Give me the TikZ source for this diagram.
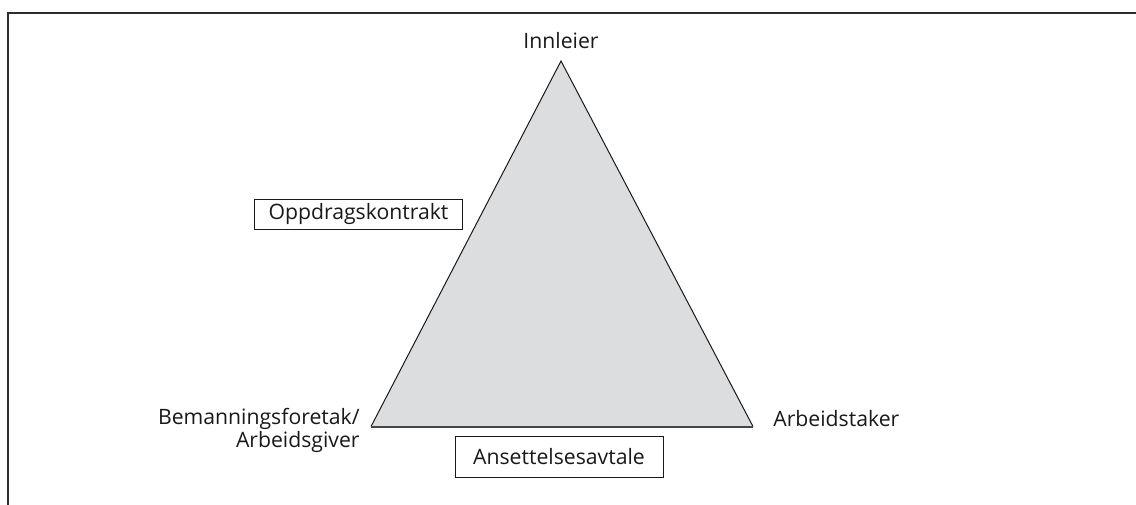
\documentclass[tikz,border=0pt]{standalone}
\usepackage{fontspec}
\setmainfont{Open Sans}
\usepackage{xcolor}
\usepackage{tikz}
\usetikzlibrary{positioning,calc}
\definecolor{ink}{RGB}{25,25,25}
\definecolor{framegray}{RGB}{45,45,45}
\definecolor{basegray}{RGB}{70,70,70}
\definecolor{panelgray}{RGB}{220,221,223}
\tikzset{
  frameline/.style={line width=1pt,framegray},
  side/.style={line width=0.5pt,ink},
  baseline/.style={line width=1pt,basegray},
  party/.style={font=\fontsize{10.6}{11.2}\selectfont,text=ink,inner sep=0pt},
  contract/.style={draw=ink,line width=0.5pt,fill=white,
    font=\fontsize{10.6}{11.2}\selectfont,text=ink,
    minimum width=104pt,inner sep=0pt}
}

\begin{document}
\begin{tikzpicture}[x=0.5pt,y=-0.5pt]
  \useasboundingbox (0,0) rectangle (1136,504);
  % outer frame, cut off on the right and below
  \draw[frameline] (7.5,520) -- (7.5,12.5) -- (1150,12.5);
  % the three parties
  \coordinate (top) at (561,61);
  \coordinate (left) at (371,426.5);
  \coordinate (right) at (753,426.5);
  \fill[panelgray] (top) -- (left) -- (right) -- cycle;
  \draw[side] (left) -- (top) -- (right);
  \draw[baseline] (left) -- (right);
  \node[party] (innleier) at (561,41) {Innleier};
  \node[party,align=right,anchor=north east] (bemanning) at (360,408)
    {Bemanningsforetak/\\Arbeidsgiver};
  \node[party,anchor=west] (arbeidstaker) at (773,419) {Arbeidstaker};
  % contracts
  \node[contract,minimum height=15pt] (oppdrag) at (358.5,214) {Oppdragskontrakt};
  \node[contract,minimum height=20.5pt] (ansettelse) at (559,456.5) {Ansettelsesavtale};
\end{tikzpicture}
\end{document}
